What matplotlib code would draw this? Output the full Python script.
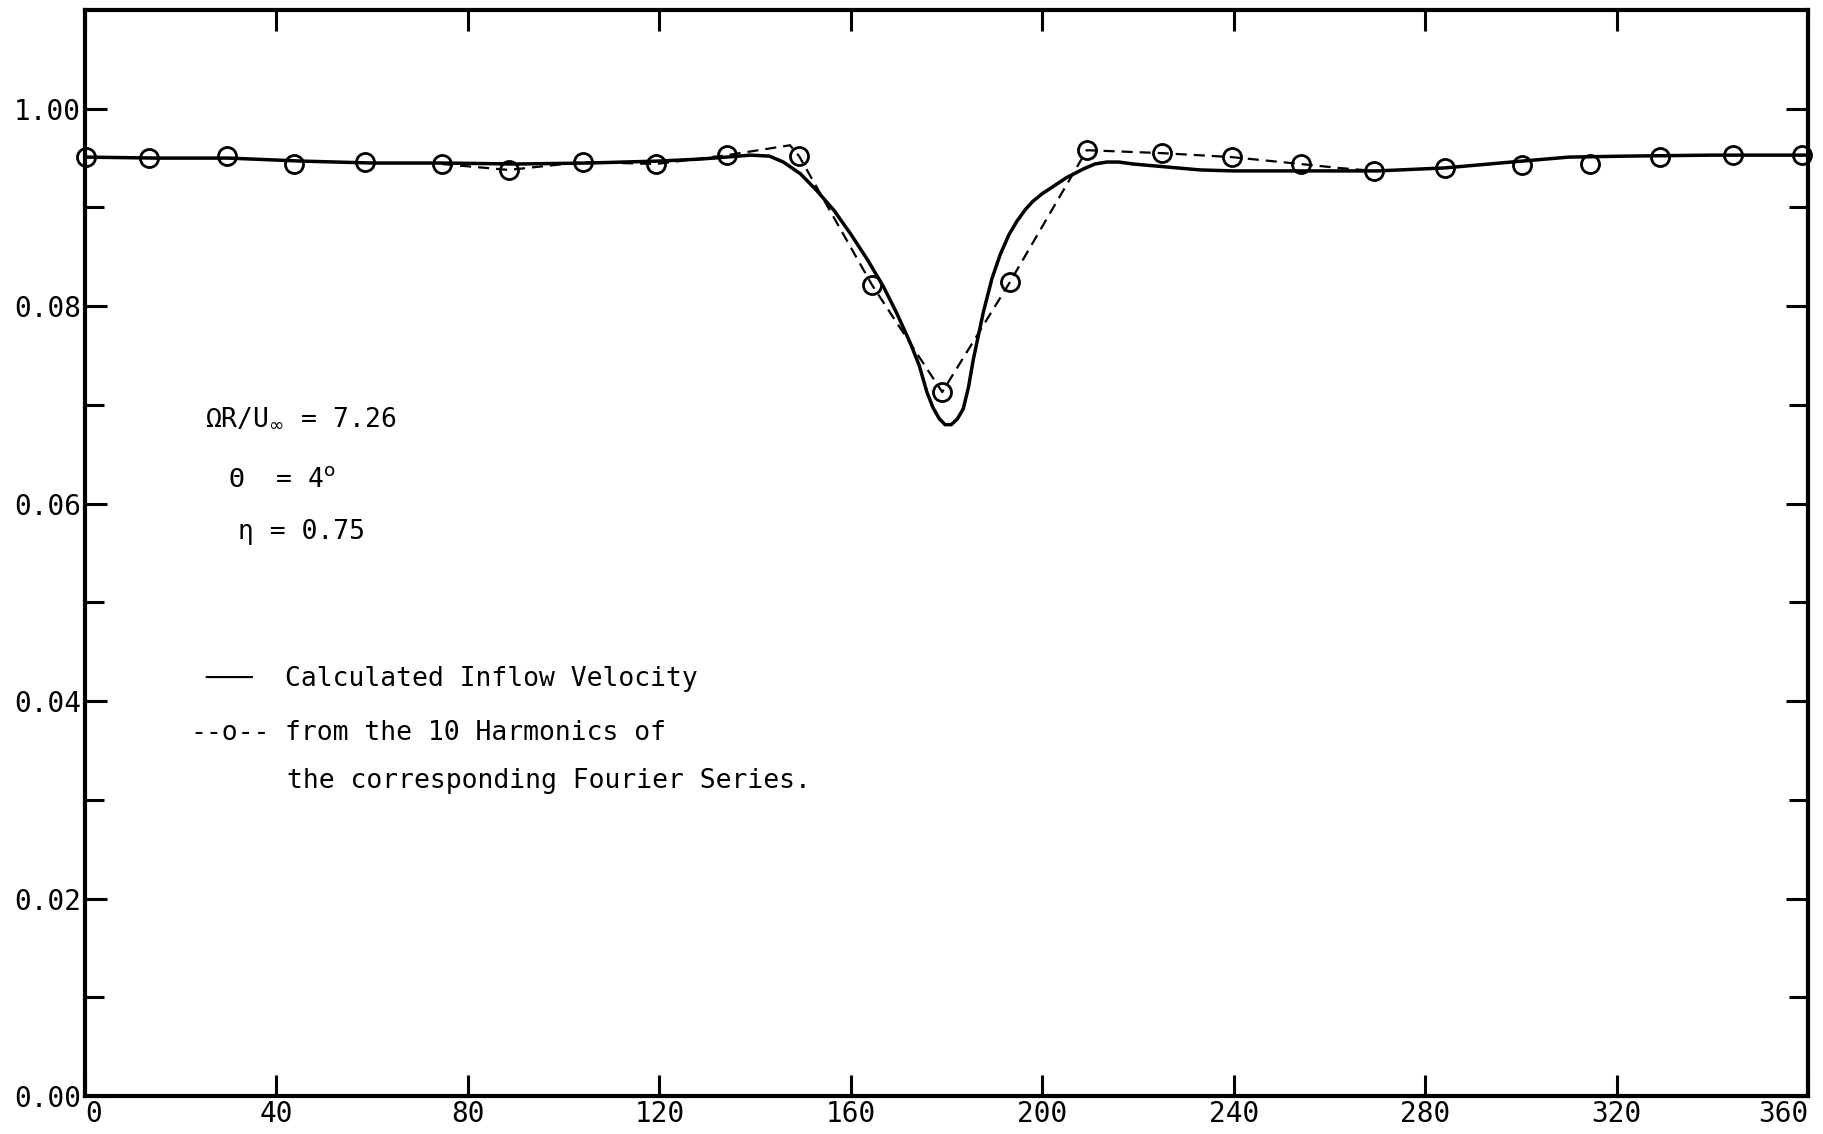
import matplotlib
matplotlib.use('Agg')
import matplotlib.pyplot as plt
import numpy as np

plt.rcParams['font.family'] = ['DejaVu Sans Mono', 'DejaVu Sans']
plt.rcParams['mathtext.fontset'] = 'dejavusans'
plt.rcParams['lines.scale_dashes'] = False

# azimuth angle (deg) and calculated inflow velocity (solid curve)
calc_psi = [0, 15, 30, 45, 60, 75, 90, 105, 120, 128.5, 134, 139, 143, 145.9, 149.5,
            152.9, 156.5, 160, 163.5, 166.8, 169.6, 172.4, 174.3, 175.9, 177.2, 178.5,
            179.7, 181.0, 182.3, 183.5, 184.6, 185.6, 187.7, 189.5, 191.2, 193.0, 194.7,
            196.5, 198.0, 200.0, 201.6, 205.0, 208.6, 211.0, 213.5, 216.0, 219, 226, 233,
            240, 250, 262, 270, 284, 298, 310, 322, 340, 360]
calc_v = [0.0951, 0.0950, 0.0950, 0.0947, 0.0945, 0.0945, 0.0944, 0.0945, 0.0947, 0.0949,
          0.0951, 0.0953, 0.0952, 0.0946, 0.0934,
          0.0917, 0.0897, 0.0873, 0.0847, 0.0820, 0.0793, 0.0763, 0.0740, 0.0713, 0.0697, 0.0686,
          0.0680, 0.0680, 0.0686, 0.0696, 0.0718, 0.0746, 0.0794, 0.0828, 0.0852, 0.0872, 0.0886,
          0.0898, 0.0906, 0.0914, 0.0919, 0.0930, 0.0939, 0.0944, 0.0946, 0.0946, 0.0944, 0.0941,
          0.0938, 0.0937, 0.0937, 0.0937, 0.0937, 0.0940, 0.0946, 0.0951, 0.0952, 0.0953, 0.0953]

# values from the 10 harmonics of the Fourier series (circles)
four_psi = [0.2, 13.4, 29.6, 43.7, 58.6, 74.6, 88.5, 104.0, 119.3, 134.2, 149.2, 164.5,
            179.1, 193.2, 209.3, 225.1, 239.6, 254.0, 269.3, 284.1, 300.2, 314.5, 329.1,
            344.4, 358.7]
four_v = [0.0951, 0.0950, 0.0952, 0.0944, 0.0946, 0.0944, 0.0938, 0.0946, 0.0944, 0.0953,
          0.0952, 0.0821, 0.0713, 0.0824, 0.0958, 0.0955, 0.0951, 0.0944, 0.0937, 0.0940,
          0.0943, 0.0944, 0.0951, 0.0953, 0.0953]

# dashed connecting line where it departs from the solid curve
dash_psi = [74.6, 88.5, 104.0, 119.3, 134.2, 147.3, 149.2, 164.5, 179.1, 193.2, 209.3,
            225.1, 239.6, 254.0, 262.0, 269.3]
dash_v = [0.0944, 0.0938, 0.0946, 0.0944, 0.0953, 0.0963, 0.0952, 0.0821, 0.0713, 0.0824,
          0.0958, 0.0955, 0.0951, 0.0944, 0.0940, 0.0937]

x_ticks = [0, 40, 80, 120, 160, 200, 240, 280, 320, 360]
y_ticks = [0.00, 0.02, 0.04, 0.06, 0.08, 0.10]
y_labels = ['0.00', '0.02', '0.04', '0.06', '0.08', '1.00']

fig = plt.figure(figsize=(18.24, 11.34), dpi=100)
ax = fig.add_axes([85 / 1824, 38 / 1134, 1723 / 1824, 1086 / 1134])

ax.plot(dash_psi, dash_v, color='black', lw=1.6, dashes=(8, 5))
ax.plot(calc_psi, calc_v, color='black', lw=2.5, solid_joinstyle='round')
ax.plot(four_psi, four_v, ls='none', marker='o', ms=13, mfc='none', mec='black', mew=2.0,
        clip_on=False)

ax.set_xlim(0, 360)
ax.set_ylim(0, 0.110)

ax.set_xticks(x_ticks)
ax.set_xticklabels([str(v) for v in x_ticks], fontsize=20)
ax.get_xticklabels()[0].set_ha('left')
ax.get_xticklabels()[-1].set_ha('right')
ax.set_yticks(y_ticks)
ax.set_yticklabels(y_labels, fontsize=20)
ax.set_yticks(np.arange(0.01, 0.10, 0.02), minor=True)

ax.tick_params(axis='both', which='both', direction='in', width=2.2,
               top=True, right=True, color='black')
ax.tick_params(axis='x', which='major', length=15, pad=3)
ax.tick_params(axis='y', which='major', length=16, pad=3)
ax.tick_params(axis='y', which='minor', length=14)

for side in ['left', 'bottom', 'top', 'right']:
    ax.spines[side].set_linewidth(3)

# parameters
ax.text(0.0696, 0.617, 'ΩR/U$_{\\infty}$ = 7.26', transform=ax.transAxes,
        fontsize=19, va='baseline', ha='left')
ax.text(0.083, 0.561, 'Θ  = 4$^{\\mathrm{o}}$', transform=ax.transAxes,
        fontsize=19, va='baseline', ha='left')
ax.text(0.0888, 0.513, 'η = 0.75', transform=ax.transAxes,
        fontsize=19, va='baseline', ha='left')

# legend
ax.text(0.0696, 0.3775, '───', transform=ax.transAxes, fontsize=19, va='baseline', ha='left')
ax.text(0.116, 0.3775, 'Calculated Inflow Velocity', transform=ax.transAxes,
        fontsize=19, va='baseline', ha='left')
ax.text(0.061, 0.328, '--o--', transform=ax.transAxes, fontsize=19, va='baseline', ha='left')
ax.text(0.116, 0.328, 'from the 10 Harmonics of', transform=ax.transAxes,
        fontsize=19, va='baseline', ha='left')
ax.text(0.117, 0.2837, 'the corresponding Fourier Series.', transform=ax.transAxes,
        fontsize=19, va='baseline', ha='left')

fig.savefig('out.png', dpi=100)
